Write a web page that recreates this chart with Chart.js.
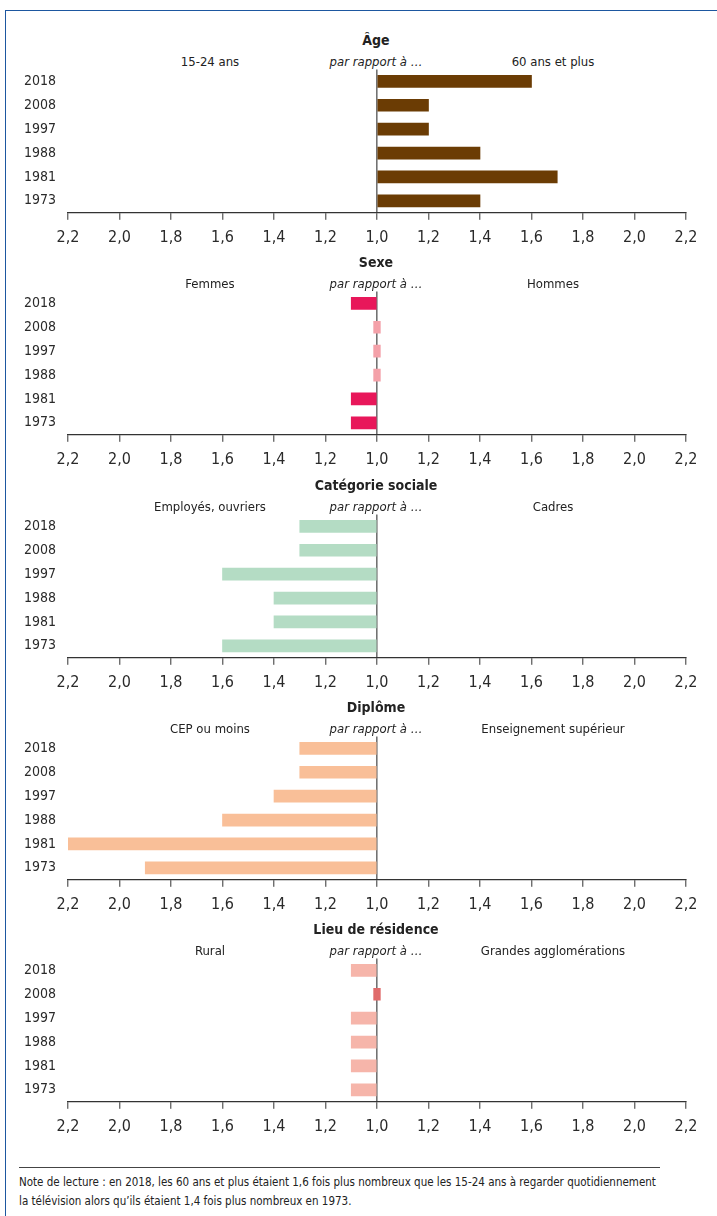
<!DOCTYPE html>
<html lang="fr">
<head>
<meta charset="utf-8">
<script src="https://cdn.jsdelivr.net/npm/chart.js@4.4.1/dist/chart.umd.min.js"></script>
<style>
  body { margin: 0; background: #fff; font-family: "DejaVu Sans", sans-serif; font-stretch: condensed; color: #222; }
  #page { position: relative; width: 717px; height: 1216px; overflow: hidden; }
  #frame { position: absolute; left: 5px; top: 10px; width: 740px; height: 1240px; border-top: 1.5px solid #1d57a0; border-left: 1.5px solid #1d57a0; }
  .panel { position: absolute; left: 0; width: 717px; height: 222px; }
  .panel canvas { position: absolute; left: 0; top: 21px; }
  .title { position: absolute; top: 2px; left: 376px; transform: translateX(-50%); font-weight: bold; font-size: 14px; line-height: 20px; white-space: nowrap; }
  .lab { position: absolute; top: 25px; transform: translateX(-50%); font-size: 13px; line-height: 18px; white-space: nowrap; }
  .lab.mid { font-style: italic; left: 376px; }
  .lab.l { left: 210px; }
  .lab.r { left: 553px; }
  #note { position: absolute; left: 19px; top: 1167px; width: 641px; border-top: 1px solid #444; padding-top: 5px; font-size: 11.5px; line-height: 19px; white-space: nowrap; }
</style>
</head>
<body>
<div id="page">
  <div id="frame"></div>

  <div class="panel" style="top:28px">
    <div class="title">Âge</div>
    <div class="lab l">15-24 ans</div><div class="lab mid">par rapport à …</div><div class="lab r">60 ans et plus</div>
    <canvas id="ageChart" width="717" height="206"></canvas>
  </div>
  <div class="panel" style="top:250px">
    <div class="title">Sexe</div>
    <div class="lab l">Femmes</div><div class="lab mid">par rapport à …</div><div class="lab r">Hommes</div>
    <canvas id="sexeChart" width="717" height="206"></canvas>
  </div>
  <div class="panel" style="top:473px">
    <div class="title">Catégorie sociale</div>
    <div class="lab l">Employés, ouvriers</div><div class="lab mid">par rapport à …</div><div class="lab r">Cadres</div>
    <canvas id="csChart" width="717" height="206"></canvas>
  </div>
  <div class="panel" style="top:695px">
    <div class="title">Diplôme</div>
    <div class="lab l">CEP ou moins</div><div class="lab mid">par rapport à …</div><div class="lab r">Enseignement supérieur</div>
    <canvas id="diplomeChart" width="717" height="206"></canvas>
  </div>
  <div class="panel" style="top:917px">
    <div class="title">Lieu de résidence</div>
    <div class="lab l">Rural</div><div class="lab mid">par rapport à …</div><div class="lab r">Grandes agglomérations</div>
    <canvas id="lieuChart" width="717" height="206"></canvas>
  </div>

  <div id="note">Note de lecture : en 2018, les 60 ans et plus étaient 1,6 fois plus nombreux que les 15-24 ans à regarder quotidiennement<br>la télévision alors qu’ils étaient 1,4 fois plus nombreux en 1973.</div>
</div>

<script>
// Data (ratio; negative = côté gauche, 1.0 = égalité)
const years = ['2018', '2008', '1997', '1988', '1981', '1973'];
const ageValues = [1.6, 1.2, 1.2, 1.4, 1.7, 1.4];
const sexeValues = [-1.1, 1.0, 1.0, 1.0, -1.1, -1.1];
const csValues = [-1.3, -1.3, -1.6, -1.4, -1.4, -1.6];
const diplomeValues = [-1.3, -1.3, -1.4, -1.6, -2.2, -1.9];
const lieuValues = [-1.1, 1.0, -1.1, -1.1, -1.1, -1.1];
const tickLabels = ['2,2', '2,0', '1,8', '1,6', '1,4', '1,2', '1,0', '1,2', '1,4', '1,6', '1,8', '2,0', '2,2'];

const FONT = '"DejaVu Sans", sans-serif';
const MARK = 0.013; // demi-largeur du repère "égalité"

function toBar(r) {
    if (Math.abs(r) === 1) return [-MARK, MARK];
    return r < 0 ? [-(Math.abs(r) - 1), 0] : [0, r - 1];
}

function makePanel(id, values, color, markColor) {
    const ctx = document.getElementById(id).getContext('2d');
    return new Chart(ctx, {
        type: 'bar',
        data: {
            labels: years,
            datasets: [{
                data: values.map(toBar),
                backgroundColor: values.map(v => Math.abs(v) === 1 ? markColor : color),
                borderWidth: 0,
                barThickness: 12
            }]
        },
        options: {
            indexAxis: 'y',
            responsive: false,
            animation: false,
            layout: { autoPadding: false, padding: { left: 0, right: 31, top: 0, bottom: 0 } },
            plugins: { legend: { display: false }, tooltip: { enabled: false } },
            scales: {
                x: {
                    min: -1.2,
                    max: 1.2,
                    ticks: {
                        stepSize: 0.2,
                        autoSkip: false,
                        maxRotation: 0,
                        padding: 8,
                        color: '#2a2a2a',
                        font: { family: FONT, size: 16, weight: 'condensed' },
                        callback: (v, i) => tickLabels[i]
                    },
                    grid: {
                        drawOnChartArea: true,
                        color: c => (c.tick && Math.abs(c.tick.value) < 1e-9) ? '#727272' : 'rgba(0,0,0,0)',
                        lineWidth: 1.6,
                        tickColor: '#333',
                        tickWidth: 1,
                        tickLength: 7
                    },
                    border: { color: '#333', width: 1.2 }
                },
                y: {
                    afterFit: s => { s.width = 68; },
                    ticks: { padding: 12, color: '#2a2a2a', font: { family: FONT, size: 14, weight: 'condensed' } },
                    grid: { display: false, drawTicks: false },
                    border: { display: false }
                }
            }
        }
    });
}

makePanel('ageChart', ageValues, '#6b3c04', '#6b3c04');
makePanel('sexeChart', sexeValues, '#e8175a', '#f4a1a9');
makePanel('csChart', csValues, '#b4dcc4', '#b4dcc4');
makePanel('diplomeChart', diplomeValues, '#f9bf98', '#f9bf98');
makePanel('lieuChart', lieuValues, '#f6b5aa', '#e06b6b');
</script>
</body>
</html>
